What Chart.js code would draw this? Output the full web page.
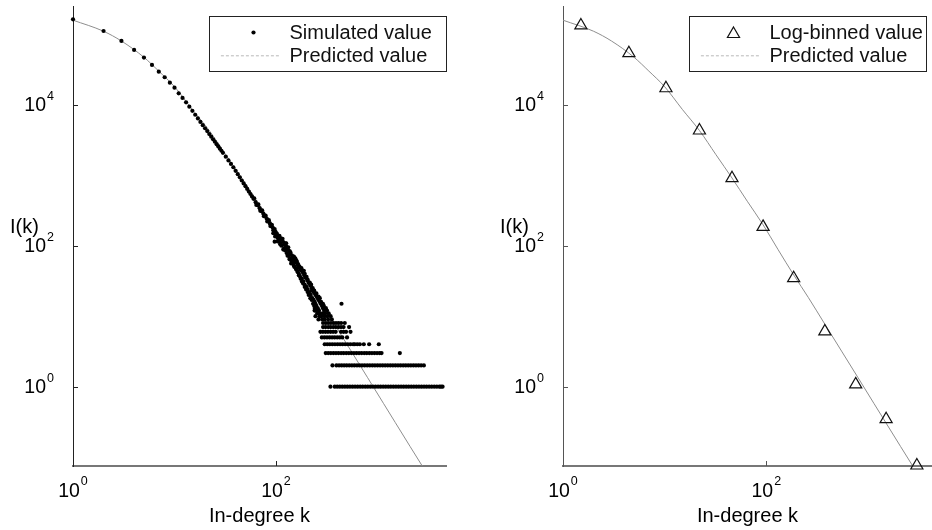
<!DOCTYPE html>
<html>
<head>
<meta charset="utf-8">
<script src="https://cdn.jsdelivr.net/npm/chart.js@4.4.0/dist/chart.umd.min.js"></script>
<style>
  body { margin: 0; background: #fff; }
  #wrap { position: relative; width: 932px; height: 530px; }
  canvas { position: absolute; top: 0; }
  #left { left: 0; }
  #right { left: 466px; }
</style>
</head>
<body>
<div id="wrap">
  <canvas id="left" width="466" height="530"></canvas>
  <canvas id="right" width="466" height="530"></canvas>
</div>
<script>
// predicted in-degree distribution I(k)
const predK = [1, 2, 3, 5, 7, 10, 15, 22, 32, 46, 65, 93, 130, 186, 260, 377, 550, 800, 1150, 1500, 2100, 2760];
const predI = [158000, 110000, 80000, 47000, 29900, 18000, 8500, 4300, 1950, 912, 427, 198, 89, 38.5, 18.3, 7.7, 3.2, 1.34, 0.574, 0.309, 0.141, 0.075];

// simulated values, head of the distribution
const simK = [1, 2, 3, 4, 5, 6, 7, 8, 9, 10, 11, 12, 13, 14, 15, 16, 17, 18, 19, 20,
  21, 22, 23, 24, 25, 26, 27, 28, 29, 30, 32, 34, 36, 38, 40, 42, 44, 46, 48, 50,
  52, 54, 56, 58, 60, 61, 63, 64, 66, 67, 69, 70, 72, 73, 75, 76, 78, 79, 81, 82,
  84, 85, 87, 88, 90, 91, 93, 94, 96, 97, 97, 99, 100];
const simI = [162500, 110900, 80200, 59700, 46500, 36600, 29400, 24500, 20500, 17400, 14500, 12470, 10800, 9380, 8190, 7200, 6380, 5700, 5120, 4630,
  4220, 3830, 3515, 3230, 2980, 2750, 2560, 2380, 2220, 2075, 1828, 1620, 1446, 1295, 1153, 1035, 931, 841, 765, 698,
  638, 586, 541, 499, 462, 470, 414, 378, 374, 385, 340, 312, 310, 318, 284, 262, 261, 268, 241, 221,
  223, 230, 207, 190, 192, 198, 179, 165, 167, 172, 114, 157, 145];

// simulated values, noisy part between k = 100 and k = 350
const cloudK = [94, 102, 100, 108, 104, 111, 106, 114, 110, 118, 113, 121, 126, 120, 129, 124, 133, 137, 126, 128,
  138, 133, 143, 148, 137, 147, 152, 142, 153, 158, 147, 160, 150, 164, 170, 157, 168, 175, 162, 176,
  182, 168, 185, 172, 190, 196, 180, 195, 186, 204, 210, 192, 212, 200, 218, 225, 205, 226, 212, 235,
  242, 220, 245, 252, 228, 258, 235, 262, 240, 270, 245, 275, 442, 250, 284, 258, 290, 265, 298, 255,
  272, 290, 305, 330, 245, 268, 280, 300, 320, 345, 262, 285, 300, 326, 355,
  98, 116, 104, 124, 110, 132, 118, 139, 136, 160, 130, 150, 155, 141, 165, 152, 178, 158, 188, 164,
  192, 168, 200, 175, 205, 180, 215, 185, 222, 192, 230, 198, 238, 205, 250, 210, 262, 218, 270, 225,
  278, 232, 290, 238, 296, 242, 310, 248, 318, 262, 240];
const cloudI = [150, 148, 140, 138, 130, 128, 120, 121, 110, 112, 100, 103, 98, 92, 91, 85, 86, 83, 108, 78,
  77, 72, 73, 70, 66, 67, 64, 61, 60, 62, 56, 57, 52, 53, 51, 48, 49, 46, 44, 45,
  43, 40, 41, 37, 38, 36, 34, 35, 31, 32, 30, 28, 29, 26, 27, 25, 24, 23, 22, 22,
  21, 20, 20, 19, 18, 18, 17, 17, 16, 16, 15, 15, 15, 14, 14, 13, 13, 12, 12, 11,
  11, 11, 11, 11, 10, 10, 10, 10, 10, 10, 9, 9, 9, 9, 9,
  135, 125, 115, 108, 105, 95, 88, 80, 64, 60, 72, 70, 66, 56, 55, 50, 48, 46, 44, 42,
  40, 38, 36, 34, 33, 31, 30, 29, 28, 26, 25, 24, 23, 22, 21, 20, 19, 18, 18, 17,
  16, 15, 15, 14, 14, 13, 13, 12, 12, 11, 12];

// simulated values, tail: one row of k values for each small count
const tailI = [1, 2, 3, 4, 5, 6, 7, 8];
const tailK = [
  [344, 379, 401, 425, 450, 477, 505, 535, 567, 601, 637, 675, 715, 758, 803, 851, 902, 956, 1013, 1073,
   1137, 1205, 1277, 1353, 1434, 1519, 1610, 1706, 1808, 1916, 2030, 2151, 2279, 2415, 2559, 2712, 2874, 3045,
   3227, 3419, 3623, 3839, 4068, 4220, 4375],
  [360, 394, 418, 443, 469, 497, 527, 559, 592, 628, 665, 705, 747, 792, 840, 890, 943, 1000, 1060, 1123,
   1190, 1262, 1337, 1418, 1503, 1593, 1688, 1790, 1897, 2010, 2131, 2259, 2394, 2538, 2690, 2864],
  [309, 327, 347, 368, 390, 413, 438, 464, 492, 522, 553, 586, 621, 658, 698, 740, 784, 831, 881, 934,
   990, 1049, 1096, 1660],
  [302, 320, 339, 359, 381, 404, 428, 453, 480, 509, 540, 575, 597, 632, 670, 733, 827, 1030],
  [283, 300, 318, 337, 357, 378, 401, 425, 450, 501],
  [274, 290, 307, 325, 345, 365, 387, 437, 463, 490, 542],
  [291, 308, 327, 346, 367, 389, 412, 437, 463, 525],
  [291, 309, 327, 347, 368, 390, 413, 438, 476]
];

// log-binned values
const binK = [1.5, 4.45, 10.3, 22, 46, 93, 186, 377, 758, 1510, 3030];
const binI = [133000, 53700, 17100, 4300, 906, 185, 34.6, 6.07, 1.08, 0.346, 0.0762];

const xTicks = [1, 100];
const yTicks = [1, 100, 10000];

const FONT = '"Liberation Sans", Arial, Helvetica, sans-serif';

function pairs(ks, is) {
    return ks.map((k, i) => ({x: k, y: is[i]}));
}

const simPoints = pairs(simK, simI).concat(pairs(cloudK, cloudI));
tailK.forEach((ks, r) => ks.forEach(k => simPoints.push({x: k, y: tailI[r]})));

// "10" with a raised exponent
function powerLabel(ctx, value, x, y, align) {
    const exp = String(Math.round(Math.log10(value)));
    ctx.font = '19.5px ' + FONT;
    const wBase = ctx.measureText('10').width;
    ctx.font = '12.5px ' + FONT;
    const wExp = ctx.measureText(exp).width;
    const total = wBase + 1 + wExp;
    const x0 = align === 'center' ? x - total / 2 : x - total;
    ctx.textAlign = 'left';
    ctx.textBaseline = 'alphabetic';
    ctx.font = '19.5px ' + FONT;
    ctx.fillText('10', x0, y);
    ctx.font = '12.5px ' + FONT;
    ctx.fillText(exp, x0 + wBase + 1, y - 11.5);
}

// inward tick marks, tick labels and axis titles
const axisDecor = {
    id: 'axisDecor',
    afterDraw(chart, args, opts) {
        const ctx = chart.ctx;
        const {left, right, top, bottom} = chart.chartArea;
        const xs = chart.scales.x, ys = chart.scales.y;
        ctx.save();
        ctx.strokeStyle = opts.tickColor;
        ctx.lineWidth = 1;
        ctx.beginPath();
        yTicks.forEach(v => {
            const y = Math.round(ys.getPixelForValue(v)) + 0.5;
            ctx.moveTo(left, y);
            ctx.lineTo(left + 5, y);
        });
        xTicks.forEach(v => {
            const x = Math.round(xs.getPixelForValue(v)) + 0.5;
            ctx.moveTo(x, bottom);
            ctx.lineTo(x, bottom - 5);
        });
        ctx.stroke();

        ctx.fillStyle = '#000';
        xTicks.forEach(v => powerLabel(ctx, v, xs.getPixelForValue(v), bottom + 30.7, 'center'));
        yTicks.forEach(v => powerLabel(ctx, v, left - 19, ys.getPixelForValue(v) + 6.7, 'right'));

        ctx.font = '20px ' + FONT;
        ctx.textBaseline = 'alphabetic';
        ctx.textAlign = 'center';
        ctx.fillText(opts.xTitle, (left + right) / 2, bottom + 55.7);
        ctx.textAlign = 'left';
        ctx.fillText(opts.yTitle, left - 63, (top + bottom) / 2 - 2.7);
        ctx.restore();
    }
};

// boxed legend in the upper right corner
const boxLegend = {
    id: 'boxLegend',
    afterDraw(chart, args, opts) {
        const ctx = chart.ctx;
        const x0 = Math.round(chart.chartArea.right - opts.inset - opts.width) + 0.5;
        const y0 = Math.round(opts.top) + 0.5;
        ctx.save();
        ctx.fillStyle = '#fff';
        ctx.fillRect(x0, y0, opts.width, opts.height);
        ctx.strokeStyle = '#222';
        ctx.lineWidth = 1;
        ctx.strokeRect(x0, y0, opts.width, opts.height);

        const entries = [chart.data.datasets[1], chart.data.datasets[0]];
        entries.forEach((ds, i) => {
            const cy = y0 + (i === 0 ? 16 : 39.3);
            if (ds.showLine) {
                ctx.strokeStyle = '#b8b8b8';
                ctx.lineWidth = 1;
                ctx.setLineDash([3, 2]);
                ctx.beginPath();
                ctx.moveTo(x0 + 11.4, cy);
                ctx.lineTo(x0 + 70, cy);
                ctx.stroke();
                ctx.setLineDash([]);
            } else if (ds.pointStyle === 'triangle') {
                const r = ds.pointRadius, mx = x0 + 44, my = cy + 1.5;
                ctx.strokeStyle = ds.borderColor;
                ctx.lineWidth = ds.borderWidth;
                ctx.beginPath();
                ctx.moveTo(mx, my - r);
                ctx.lineTo(mx + r * 0.866, my + r / 2);
                ctx.lineTo(mx - r * 0.866, my + r / 2);
                ctx.closePath();
                ctx.stroke();
            } else {
                ctx.fillStyle = ds.backgroundColor;
                ctx.beginPath();
                ctx.arc(x0 + 44, cy, ds.pointRadius, 0, Math.PI * 2);
                ctx.fill();
            }
            ctx.fillStyle = '#111';
            ctx.font = '20px ' + FONT;
            ctx.textAlign = 'left';
            ctx.textBaseline = 'alphabetic';
            ctx.fillText(ds.label, x0 + 80, cy + 6.2);
        });
        ctx.restore();
    }
};

function predictedSet() {
    return {
        label: 'Predicted value',
        data: pairs(predK, predI),
        showLine: true,
        borderColor: '#8e8e8e',
        borderWidth: 1,
        pointRadius: 0,
        cubicInterpolationMode: 'monotone',
        clip: false,
        order: 1
    };
}

function options(xMax, yAxisWidth, padRight, yAxisColor, legendInset) {
    return {
        responsive: false,
        animation: false,
        events: [],
        layout: { autoPadding: false, padding: { left: 0, right: padRight, top: 6, bottom: 0 } },
        scales: {
            x: {
                type: 'logarithmic',
                position: 'bottom',
                bounds: 'data',
                min: 1,
                max: xMax,
                grid: { display: false },
                border: { display: true, color: '#777', width: 2 },
                ticks: { display: false },
                afterFit: s => { s.height = 64; }
            },
            y: {
                type: 'logarithmic',
                position: 'left',
                bounds: 'data',
                min: 0.075,
                max: 251000,
                grid: { display: false },
                border: { display: true, color: yAxisColor, width: 1 },
                ticks: { display: false },
                afterFit: s => { s.width = yAxisWidth; }
            }
        },
        plugins: {
            legend: { display: false },
            tooltip: { enabled: false },
            axisDecor: { tickColor: yAxisColor, xTitle: 'In-degree k', yTitle: 'I(k)' },
            boxLegend: { inset: legendInset, top: 15.7, width: 237, height: 55 }
        }
    };
}

Chart.defaults.font.family = FONT;

new Chart(document.getElementById('left').getContext('2d'), {
    type: 'scatter',
    data: {
        datasets: [
            predictedSet(),
            {
                label: 'Simulated value',
                data: simPoints,
                showLine: false,
                pointRadius: 2.1,
                pointBorderWidth: 0,
                backgroundColor: '#000',
                borderColor: '#000',
                clip: false,
                order: 0
            }
        ]
    },
    options: options(4730, 73, 20, '#222', 0),
    plugins: [axisDecor, boxLegend]
});

new Chart(document.getElementById('right').getContext('2d'), {
    type: 'scatter',
    data: {
        datasets: [
            predictedSet(),
            {
                label: 'Log-binned value',
                data: pairs(binK, binI),
                showLine: false,
                pointStyle: 'triangle',
                pointRadius: 7,
                borderWidth: 1.2,
                borderColor: '#111',
                backgroundColor: 'rgba(0,0,0,0)',
                clip: false,
                order: 0
            }
        ]
    },
    options: options(4270, 97, 0, '#555', 6.3),
    plugins: [axisDecor, boxLegend]
});
</script>
</body>
</html>
